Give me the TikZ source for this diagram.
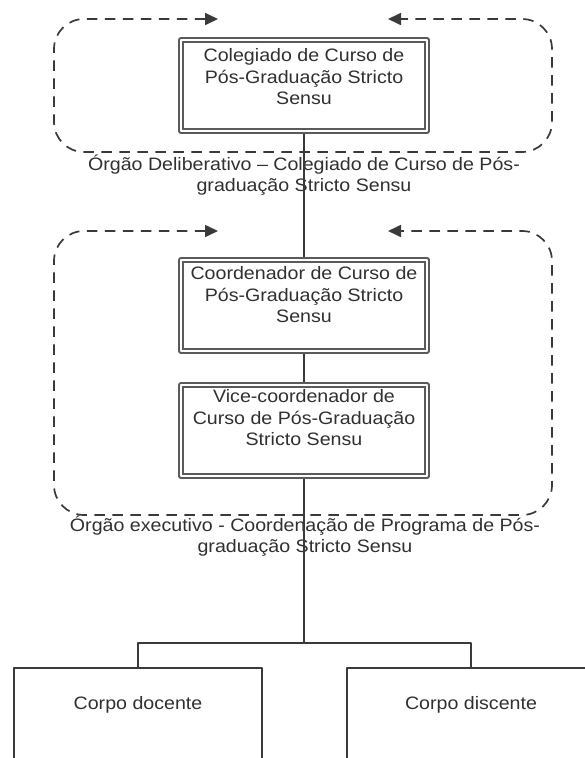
\documentclass[tikz,border=0pt]{standalone}
\usepackage{fontspec}
\setmainfont{Liberation Sans}[FakeStretch=1.09]
\usetikzlibrary{arrows.meta,positioning}
\definecolor{traco}{HTML}{3A3A3A}
\definecolor{borda}{HTML}{5A5A5A}
\definecolor{letra}{HTML}{303030}
\tikzset{
  caixa/.style={draw=borda, double=white, line width=2pt, double distance=2pt,
    minimum width=246pt, minimum height=91pt, inner sep=0pt, outer sep=3pt, anchor=north},
  corpo/.style={draw=traco, line width=1.6pt, minimum width=248pt,
    minimum height=140pt, inner sep=0pt, anchor=north},
  texto/.style={text=letra, align=center, inner sep=0pt},
  ligacao/.style={draw=traco, line width=1.5pt},
  moldura/.style={draw=traco, line width=1.7pt, dash pattern=on 10.5pt off 7.5pt,
    rounded corners=30pt, <->}
}
\begin{document}
\begin{tikzpicture}[x=1pt, y=-1pt, font=\fontsize{18}{21.5}\selectfont,
  line join=round, >={Triangle[length=13pt,width=12pt]}]
\useasboundingbox (0,0) rectangle (585,758);
\clip (0,0) rectangle (585,758);
\path
(304,643) coordinate (ramo)
;
% molduras tracejadas
\foreach \t/\b in {19/152,231/515}
\draw[moldura] (218,\t) -- (54,\t) -- (54,\b) -- (552,\b) -- (552,\t) -- (388,\t);

% caixas duplas
\node[caixa] (colegiado) at (304,37) {};
\node[caixa] (coordenador) at (304,257) {};
\node[caixa] (vice) at (304,382) {};
\node[texto] (colegiadoTexto) at (304,77) {Colegiado de Curso de\\Pós-Graduação Stricto\\Sensu};
\node[texto] (coordenadorTexto) at (304,295) {Coordenador de Curso de\\Pós-Graduação Stricto\\Sensu};
\node[texto] (viceTexto) at (304,418) {Vice-coordenador de\\Curso de Pós-Graduação\\Stricto Sensu};

% legendas dos orgaos
\node[texto] (deliberativo) at (304,175) {Órgão Deliberativo – Colegiado de Curso de Pós-\\graduação Stricto Sensu};
\node[texto] (executivo) at (305,536) {Órgão executivo - Coordenação de Programa de Pós-\\graduação Stricto Sensu};

% corpos
\node[corpo] (docente) at (138,667) {};
\node[corpo] (discente) at (471,667) {};
\node[texto] (docenteTexto) at (138,705) {Corpo docente};
\node[texto] (discenteTexto) at (471,705) {Corpo discente};

% ligacoes
\draw[ligacao] (colegiado.south) -- (coordenador.north);
\draw[ligacao] (coordenador.south) -- (vice.north);
\draw[ligacao] (vice.south) -- (ramo);
\draw[ligacao] (docente.north) |- (ramo) -| (discente.north);
\end{tikzpicture}
\end{document}
